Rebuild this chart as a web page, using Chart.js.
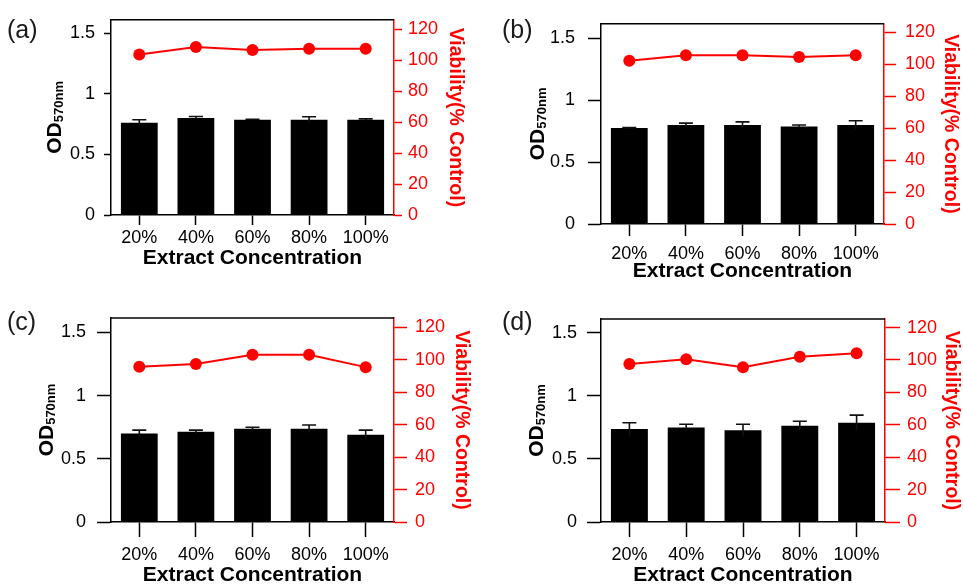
<!DOCTYPE html>
<html><head><meta charset="UTF-8">
<title>OD570nm and viability vs extract concentration</title>
<script src="https://cdn.jsdelivr.net/npm/chart.js@4"></script>
<style>
    body, html {
        margin: 0;
        padding: 0;
        background: #fff;
        overflow: hidden;
        font-family: 'Liberation Sans', Arial, sans-serif;
    }
    .panel { position: absolute; }
    .tag {
        position: absolute;
        font-size: 25px;
        line-height: 1;
        color: #1a1a1a;
    }
</style>
</head>
<body>
<div class="panel" style="left:0;top:0"><canvas id="chartA" width="480" height="290"></canvas></div>
<div class="panel" style="left:480px;top:0"><canvas id="chartB" width="483" height="290"></canvas></div>
<div class="panel" style="left:0;top:290px"><canvas id="chartC" width="480" height="294"></canvas></div>
<div class="panel" style="left:480px;top:290px"><canvas id="chartD" width="483" height="294"></canvas></div>
<div class="tag" style="left:7px;top:17px">(a)</div>
<div class="tag" style="left:502px;top:17px">(b)</div>
<div class="tag" style="left:7px;top:309px">(c)</div>
<div class="tag" style="left:502px;top:309px">(d)</div>

<script>
// categories and tick labels
const categories = ['20%', '40%', '60%', '80%', '100%'];
const odTicks = [0, 0.5, 1, 1.5];
const viabilityTicks = [0, 20, 40, 60, 80, 100, 120];

// (a)
const odA = [0.76, 0.80, 0.785, 0.785, 0.785];
const odErrA = [0.025, 0.012, 0.005, 0.025, 0.008];
const viabilityA = [103.6, 108.4, 106.5, 107.3, 107.3];
// (b)
const odB = [0.776, 0.80, 0.80, 0.788, 0.80];
const odErrB = [0.003, 0.015, 0.025, 0.012, 0.035];
const viabilityB = [102.1, 105.5, 105.5, 104.5, 105.5];
// (c)
const odC = [0.70, 0.714, 0.737, 0.737, 0.69];
const odErrC = [0.027, 0.013, 0.013, 0.03, 0.037];
const viabilityC = [95.7, 97.5, 103.1, 103.1, 95.5];
// (d)
const odD = [0.737, 0.75, 0.727, 0.764, 0.788];
const odErrD = [0.05, 0.025, 0.048, 0.035, 0.06];
const viabilityD = [97.5, 100.4, 95.5, 102, 104.1];

const RED = '#ff0000';
const FONT = "'Liberation Sans', Arial, Helvetica, sans-serif";

// error bars on top of the bars
const errorBars = {
    id: 'errorBars',
    afterDatasetsDraw(chart) {
        const ds = chart.data.datasets[1];
        const meta = chart.getDatasetMeta(1);
        const y = chart.scales.y;
        const ctx = chart.ctx;
        ctx.save();
        ctx.strokeStyle = '#111';
        ctx.lineWidth = 1.6;
        meta.data.forEach((bar, i) => {
            const top = y.getPixelForValue(ds.data[i] + ds.errors[i]);
            const bot = y.getPixelForValue(ds.data[i] - ds.errors[i]);
            ctx.beginPath();
            ctx.moveTo(bar.x, bot);
            ctx.lineTo(bar.x, top);
            ctx.moveTo(bar.x - 7, top);
            ctx.lineTo(bar.x + 7, top);
            ctx.stroke();
        });
        ctx.restore();
    }
};

// top edge of the frame
const topFrame = {
    id: 'topFrame',
    afterDraw(chart) {
        const {ctx, chartArea} = chart;
        ctx.save();
        ctx.strokeStyle = '#000';
        ctx.lineWidth = 1.5;
        ctx.beginPath();
        ctx.moveTo(chartArea.left, chartArea.top);
        ctx.lineTo(chartArea.right, chartArea.top);
        ctx.stroke();
        ctx.restore();
    }
};

// left axis title with subscript: OD570nm
const odTitle = {
    id: 'odTitle',
    afterDraw(chart, args, opts) {
        const {ctx, chartArea} = chart;
        ctx.save();
        ctx.translate(opts.x, (chartArea.top + chartArea.bottom) / 2);
        ctx.rotate(-Math.PI / 2);
        ctx.fillStyle = '#000';
        ctx.textBaseline = 'alphabetic';
        ctx.font = 'bold 21px ' + FONT;
        const w1 = ctx.measureText('OD').width;
        ctx.font = 'bold 13px ' + FONT;
        const w2 = ctx.measureText('570nm').width;
        const x0 = -(w1 + w2) / 2;
        ctx.font = 'bold 21px ' + FONT;
        ctx.fillText('OD', x0, 8);
        ctx.font = 'bold 13px ' + FONT;
        ctx.fillText('570nm', x0 + w1, 10);
        ctx.restore();
    }
};

function makePanel(id, od, err, viability, g) {
    const canvas = document.getElementById(id);
    const W = canvas.width, H = canvas.height;
    new Chart(canvas, {
        type: 'bar',
        data: {
            labels: categories,
            datasets: [{
                type: 'line',
                data: viability,
                yAxisID: 'y2',
                order: 0,
                borderColor: RED,
                backgroundColor: RED,
                borderWidth: 2,
                pointRadius: 6,
                pointBorderWidth: 0,
                pointBackgroundColor: RED
            }, {
                type: 'bar',
                data: od,
                errors: err,
                yAxisID: 'y',
                order: 1,
                backgroundColor: '#000',
                borderWidth: 0,
                barPercentage: 0.65,
                categoryPercentage: 1
            }]
        },
        options: {
            responsive: false,
            animation: false,
            layout: { padding: { top: g.T, left: 0, right: 0, bottom: 0 } },
            plugins: {
                legend: { display: false },
                tooltip: { enabled: false },
                odTitle: { x: g.odX }
            },
            scales: {
                x: {
                    afterFit(s) { s.height = H - g.B; },
                    grid: { display: true, drawOnChartArea: false, offset: false,
                            tickLength: g.xt, tickColor: '#000', tickWidth: 1.5 },
                    border: { color: '#000', width: 1.5 },
                    ticks: { color: '#000', padding: g.xp, font: { family: FONT, size: 18 } },
                    title: { display: true, text: 'Extract Concentration', color: '#000',
                             font: { family: FONT, size: 21, weight: 'bold' },
                             padding: { top: 0, bottom: g.xtp } }
                },
                y: {
                    position: 'left',
                    min: 0, max: g.odMax,
                    afterFit(s) { s.width = g.L; },
                    afterBuildTicks(s) { s.ticks = odTicks.map(v => ({ value: v })); },
                    grid: { display: true, drawOnChartArea: false,
                            tickLength: g.yt, tickColor: '#000', tickWidth: 1.5 },
                    border: { color: '#000', width: 1.5 },
                    ticks: { color: '#000', padding: g.yp, font: { family: FONT, size: 18 },
                             callback: v => String(v) }
                },
                y2: {
                    position: 'right',
                    min: 0, max: g.vMax,
                    afterFit(s) { s.width = W - g.R; },
                    afterBuildTicks(s) { s.ticks = viabilityTicks.map(v => ({ value: v })); },
                    grid: { display: true, drawOnChartArea: false,
                            tickLength: g.rt, tickColor: RED, tickWidth: 1.5 },
                    border: { color: RED, width: 1.5 },
                    ticks: { color: RED, padding: g.rp, font: { family: FONT, size: 18 } },
                    title: { display: true, text: 'Viability(% Control)', color: RED,
                             font: { family: FONT, size: 19.5, weight: 'bold' },
                             padding: { top: g.rtp, bottom: 0 } }
                }
            }
        },
        plugins: [errorBars, topFrame, odTitle]
    });
}

makePanel('chartA', odA, odErrA, viabilityA,
    { L: 111, R: 394, T: 14, B: 215, odMax: 1.61, vMax: 126,
      yt: 7, yp: 9, rt: 8, rp: 6, xt: 10, xp: 2, xtp: 19, rtp: 13, odX: 53 });
makePanel('chartB', odB, odErrB, viabilityB,
    { L: 121, R: 404, T: 14, B: 224, odMax: 1.618, vMax: 125.2,
      yt: 13, yp: 13, rt: 12, rp: 9, xt: 12, xp: 7, xtp: 6, rtp: 1, odX: 56 });
makePanel('chartC', odC, odErrC, viabilityC,
    { L: 111, R: 394, T: 28, B: 232, odMax: 1.614, vMax: 125.8,
      yt: 14, yp: 11, rt: 13, rp: 8, xt: 15, xp: 7, xtp: -4, rtp: 7, odX: 45 });
makePanel('chartD', odD, odErrD, viabilityD,
    { L: 121, R: 405, T: 29, B: 232, odMax: 1.61, vMax: 125.3,
      yt: 14, yp: 10, rt: 15, rp: 7, xt: 15, xp: 7, xtp: -4, rtp: 0, odX: 55 });
</script>
</body>
</html>
